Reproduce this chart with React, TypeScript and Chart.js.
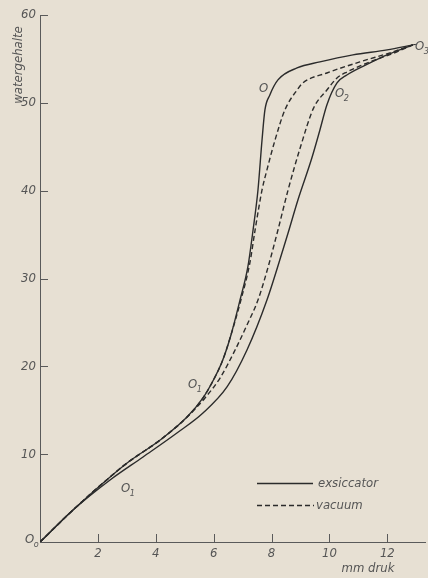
import React, { useEffect, useRef } from "react";
import { Chart, registerables } from "chart.js";

Chart.register(...registerables);

// Axis ticks
const xTickValues = [0, 2, 4, 6, 8, 10, 12];
const yTickValues = [0, 10, 20, 30, 40, 50, 60];

// exsiccator (solid), left branch
const exsLeftX = [0, 1.14, 2.18, 3.01, 4.15, 5.08, 5.63, 6.0, 6.3, 6.6, 6.91, 7.18, 7.36, 7.53, 7.67, 7.77, 7.94, 8.22, 8.88, 9.67, 10.81, 11.99, 12.88];
const exsLeftY = [0, 3.64, 6.72, 9.0, 11.61, 14.23, 16.4, 18.5, 20.6, 23.6, 27.55, 31.31, 35.52, 40.08, 45.77, 49.19, 50.9, 52.61, 53.97, 54.66, 55.46, 56.03, 56.6];

// exsiccator (solid), right branch
const exsRightX = [0, 1.14, 2.42, 3.56, 4.73, 5.63, 6.46, 7.15, 7.84, 8.39, 8.57, 8.91, 9.38, 9.67, 9.91, 10.26, 10.6, 11.4, 11.99, 12.88];
const exsRightY = [0, 3.64, 7.06, 9.68, 12.41, 14.69, 17.65, 21.86, 27.55, 33.24, 35.18, 38.94, 43.6, 46.91, 49.76, 52.26, 53.17, 54.54, 55.45, 56.6];

// vacuum (dashed), left branch
const vacLeftX = [0, 1.14, 2.18, 3.01, 4.15, 5.08, 5.63, 6.0, 6.3, 6.6, 6.94, 7.25, 7.43, 7.67, 7.84, 8.12, 8.46, 8.88, 9.08, 9.91, 11.05, 12.19, 12.88];
const vacLeftY = [0, 3.64, 6.72, 9.0, 11.61, 14.23, 16.4, 18.5, 20.6, 23.6, 27.55, 31.77, 35.52, 40.08, 42.36, 45.77, 49.19, 51.46, 52.26, 53.4, 54.66, 55.8, 56.6];

// vacuum (dashed), right branch
const vacRightX = [0, 1.14, 2.18, 3.01, 4.15, 5.08, 5.7, 6.22, 6.74, 7.15, 7.53, 7.88, 8.22, 8.57, 9.0, 9.45, 9.91, 10.26, 10.6, 11.4, 12.33, 12.88];
const vacRightY = [0, 3.64, 6.72, 9.0, 11.61, 14.23, 16.4, 18.67, 21.86, 24.71, 27.55, 31.31, 35.52, 40.08, 45.0, 49.4, 51.46, 52.83, 53.51, 54.66, 55.8, 56.6];

const legendLabels = ["exsiccator", "vacuum"];

const FONT = "'Liberation Sans Narrow', 'DejaVu Sans Condensed', 'Liberation Sans', sans-serif";
const LINE = "#2b2b2b";
const AXIS = "#5a5a5a";
const TEXT = "#555555";

const pts = (xs: number[], ys: number[]) => xs.map((x, i) => ({ x, y: ys[i] }));

const annotations = {
  id: "annotations",
  afterDraw(chart: any) {
    const ctx = chart.ctx as CanvasRenderingContext2D;
    const xs = chart.scales.x;
    const ys = chart.scales.y;
    const area = chart.chartArea;
    ctx.save();
    // inward tick marks
    ctx.strokeStyle = AXIS;
    ctx.lineWidth = 1;
    ctx.beginPath();
    xTickValues.filter((v) => v > 0).forEach((v) => {
      const px = Math.round(xs.getPixelForValue(v)) + 0.5;
      ctx.moveTo(px, area.bottom);
      ctx.lineTo(px, area.bottom - 8);
    });
    yTickValues.filter((v) => v > 0).forEach((v) => {
      const py = Math.round(ys.getPixelForValue(v)) + 0.5;
      ctx.moveTo(area.left, py);
      ctx.lineTo(area.left + 8, py);
    });
    ctx.stroke();

    ctx.fillStyle = TEXT;
    ctx.textBaseline = "middle";

    const sub = (main: string, s: string, x: number, y: number) => {
      ctx.font = `italic 13px ${FONT}`;
      ctx.textAlign = "left";
      ctx.fillText(main, x, y);
      const w = ctx.measureText(main).width;
      if (s) {
        ctx.font = `italic 9px ${FONT}`;
        ctx.fillText(s, x + w - 0.5, y + 5);
      }
    };
    sub("O", "o", 25, 540);
    sub("O", "1", 121, 489);
    sub("O", "1", 188, 385);
    sub("O", "", 259, 89);
    sub("O", "2", 335, 94);
    sub("O", "3", 415, 47);

    // connector dash to O3
    ctx.strokeStyle = LINE;
    ctx.lineWidth = 1;
    ctx.beginPath();
    ctx.moveTo(xs.getPixelForValue(12.88), ys.getPixelForValue(56.6));
    ctx.lineTo(xs.getPixelForValue(12.88) + 3, ys.getPixelForValue(56.6) - 0.5);
    ctx.stroke();

    // axis titles
    ctx.font = `italic 13px ${FONT}`;
    ctx.textAlign = "center";
    ctx.fillText("mm druk", 368, 569);
    ctx.save();
    ctx.translate(19, 65);
    ctx.rotate(-Math.PI / 2);
    ctx.fillText("watergehalte", 0, 0);
    ctx.restore();

    // legend
    ctx.strokeStyle = LINE;
    ctx.lineWidth = 1.3;
    ctx.beginPath();
    ctx.moveTo(257, 483.5);
    ctx.lineTo(313, 483.5);
    ctx.stroke();
    ctx.setLineDash([5, 3]);
    ctx.beginPath();
    ctx.moveTo(257, 505.5);
    ctx.lineTo(314, 505.5);
    ctx.stroke();
    ctx.setLineDash([]);
    ctx.font = `italic 13px ${FONT}`;
    ctx.textAlign = "left";
    ctx.fillStyle = TEXT;
    ctx.fillText(legendLabels[0], 318, 484);
    ctx.fillText(legendLabels[1], 316, 506);
    ctx.restore();
  },
};

export default function App() {
  const ref = useRef<HTMLCanvasElement | null>(null);
  useEffect(() => {
    if (!ref.current) return;
    const common = {
      pointRadius: 0,
      borderColor: LINE,
      borderWidth: 1.4,
      cubicInterpolationMode: "monotone",
      fill: false,
    };
    const chart = new Chart(ref.current, {
      type: "line",
      data: {
        datasets: [
          { ...common, label: "exsiccator", data: pts(exsLeftX, exsLeftY) },
          { ...common, label: "exsiccator ", data: pts(exsRightX, exsRightY) },
          { ...common, label: "vacuum", data: pts(vacLeftX, vacLeftY), borderDash: [5, 3] },
          { ...common, label: "vacuum ", data: pts(vacRightX, vacRightY), borderDash: [5, 3] },
        ],
      },
      options: {
        animation: false,
        responsive: false,
        devicePixelRatio: 1,
        layout: { padding: { left: 0, top: 15, right: 3, bottom: 0 } },
        plugins: { legend: { display: false }, tooltip: { enabled: false } },
        scales: {
          x: {
            type: "linear",
            min: 0,
            max: 13.3,
            afterFit: (s: any) => { s.height = 36; },
            afterBuildTicks: (s: any) => { s.ticks = xTickValues.map((v) => ({ value: v })); },
            ticks: {
              includeBounds: false,
              padding: 4,
              color: TEXT,
              font: { family: FONT, size: 13, style: "italic" },
              callback: (v: any) => (v === 0 ? "" : String(v)),
              maxRotation: 0,
            },
            grid: { display: false, drawTicks: false },
            border: { display: true, color: AXIS, width: 1 },
          },
          y: {
            type: "linear",
            min: 0,
            max: 60,
            afterFit: (s: any) => { s.width = 40; },
            afterBuildTicks: (s: any) => { s.ticks = yTickValues.map((v) => ({ value: v })); },
            ticks: {
              includeBounds: false,
              padding: 4,
              color: TEXT,
              font: { family: FONT, size: 13, style: "italic" },
              callback: (v: any) => (v === 0 ? "" : String(v)),
            },
            grid: { display: false, drawTicks: false },
            border: { display: true, color: AXIS, width: 1 },
          },
        },
      },
      plugins: [annotations],
    } as any);
    return () => chart.destroy();
  }, []);
  return (
    <div style={{ position: "absolute", left: 0, top: 0, width: 428, height: 578, background: "#e7e0d3" }}>
      <canvas ref={ref} width={428} height={578} style={{ display: "block" }} />
    </div>
  );
}
